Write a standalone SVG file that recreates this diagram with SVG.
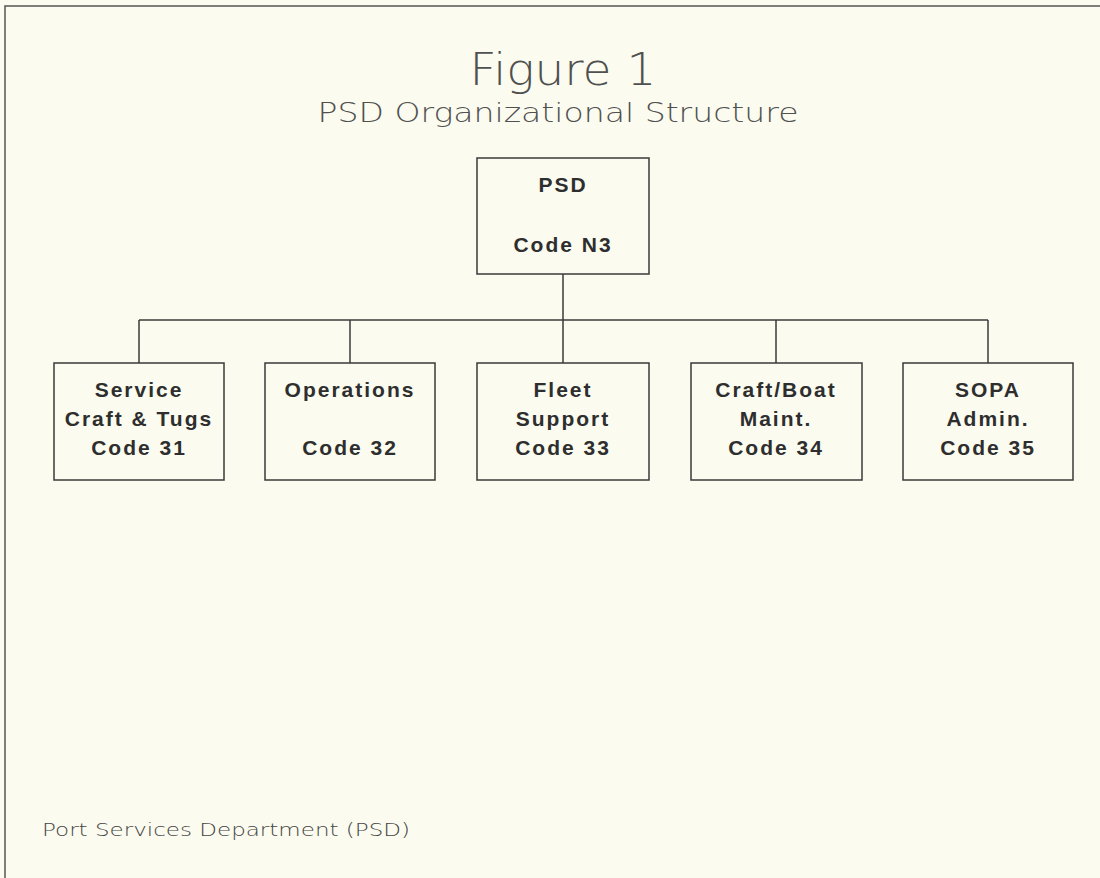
<svg xmlns="http://www.w3.org/2000/svg" width="1100" height="878" viewBox="0 0 1100 878">
<style>
.bg{fill:#fbfbef}
.frame{stroke:#555;stroke-width:1.5;fill:none}
.box{fill:none;stroke:#3a3a3a;stroke-width:1.5}
.conn{stroke:#3a3a3a;stroke-width:1.5;fill:none}
.lbl{font-family:"Liberation Sans",Arial,sans-serif;font-weight:bold;font-size:21px;letter-spacing:2px;fill:#2e2e2e;text-anchor:middle}
.title{font-family:"DejaVu Sans","Liberation Sans",sans-serif;font-weight:200;fill:#505050;text-anchor:middle}
.foot{font-family:"DejaVu Sans","Liberation Sans",sans-serif;font-weight:200;font-size:18px;fill:#444}
</style>
<rect class="bg" x="0" y="0" width="1100" height="878"/>
<path class="frame" d="M5,878 V6 H1100"/>
<g id="title">
<text class="title" x="563" y="85" font-size="45" textLength="187" lengthAdjust="spacingAndGlyphs">Figure 1</text>
<text class="title" x="558" y="122" font-size="27" textLength="481" lengthAdjust="spacingAndGlyphs">PSD Organizational Structure</text>
</g>
<g id="connectors">
<line class="conn" x1="563" y1="274" x2="563" y2="363"/>
<line class="conn" x1="139" y1="320" x2="988" y2="320"/>
<line class="conn" x1="139" y1="320" x2="139" y2="363"/>
<line class="conn" x1="350" y1="320" x2="350" y2="363"/>
<line class="conn" x1="776" y1="320" x2="776" y2="363"/>
<line class="conn" x1="988" y1="320" x2="988" y2="363"/>
</g>
<g id="psd">
<rect class="box" x="477" y="158" width="172" height="116"/>
<text class="lbl" x="563" y="192">PSD</text>
<text class="lbl" x="563" y="252">Code N3</text>
</g>
<g id="code31">
<rect class="box" x="54" y="363" width="170" height="117"/>
<text class="lbl" x="139" y="397">Service</text>
<text class="lbl" x="139" y="426">Craft &amp; Tugs</text>
<text class="lbl" x="139" y="455">Code 31</text>
</g>
<g id="code32">
<rect class="box" x="265" y="363" width="170" height="117"/>
<text class="lbl" x="350" y="397">Operations</text>
<text class="lbl" x="350" y="455">Code 32</text>
</g>
<g id="code33">
<rect class="box" x="477" y="363" width="172" height="117"/>
<text class="lbl" x="563" y="397">Fleet</text>
<text class="lbl" x="563" y="426">Support</text>
<text class="lbl" x="563" y="455">Code 33</text>
</g>
<g id="code34">
<rect class="box" x="691" y="363" width="171" height="117"/>
<text class="lbl" x="776" y="397">Craft/Boat</text>
<text class="lbl" x="776" y="426">Maint.</text>
<text class="lbl" x="776" y="455">Code 34</text>
</g>
<g id="code35">
<rect class="box" x="903" y="363" width="170" height="117"/>
<text class="lbl" x="988" y="397">SOPA</text>
<text class="lbl" x="988" y="426">Admin.</text>
<text class="lbl" x="988" y="455">Code 35</text>
</g>
<text class="foot" x="42" y="836" textLength="368" lengthAdjust="spacingAndGlyphs">Port Services Department (PSD)</text>
</svg>
